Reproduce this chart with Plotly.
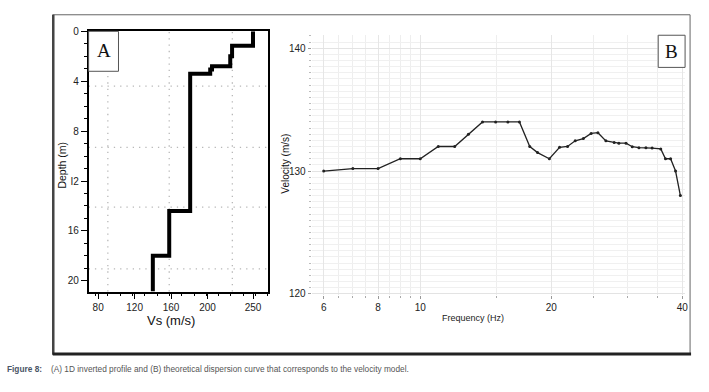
import numpy as np
import plotly.graph_objects as go

W, H = 709, 392

# ---------------- Panel A: 1D inverted Vs profile ----------------
layer_vs = [250, 227, 225, 205, 203, 181, 158, 140]            # m/s
layer_bottom_depth = [1.15, 2.0, 2.8, 3.05, 3.4, 14.4, 18.0, 20.86]  # m
vs_tick_vals = [80, 120, 160, 200, 250]
depth_tick_vals = [0, 4, 8, 12, 16, 20]
depth_tick_text = ["0", "4", "8", "I2", "16", "20"]
vs_grid = [90.6, 158, 227.3]
depth_grid = [4.4, 9.3, 14.1, 19.05]

# ---------------- Panel B: theoretical dispersion curve ----------------
freq = [6.0, 7.0, 8.0, 9.0, 10.0, 11.0, 12.0, 12.9, 13.9, 14.9, 15.9, 16.9,
        17.85, 18.6, 19.8, 20.9, 21.8, 22.7, 23.7, 24.7, 25.6, 26.7, 27.9,
        28.6, 29.7, 30.7, 31.8, 33.0, 34.1, 35.7, 36.6, 37.6, 38.6, 39.6]
vel = [130.0, 130.2, 130.2, 131.0, 131.0, 132.0, 132.0, 133.0, 134.0, 134.0,
       134.0, 134.0, 132.0, 131.5, 131.0, 131.93, 132.0, 132.46, 132.64,
       133.06, 133.12, 132.46, 132.33, 132.27, 132.27, 131.98, 131.9, 131.9,
       131.87, 131.8, 131.0, 131.0, 130.0, 128.0]
freq_tick_vals = [6, 8, 10, 20, 40]
freq_minor_vals = [6.5, 7, 7.5, 8.5, 9, 9.5, 15, 25, 30, 35]
vel_tick_vals = [120, 130, 140]

def px(x):
    return x / W

def py(y):
    return 1 - y / H

# step path built from the layer model
step_x = layer_vs + [layer_vs[-1]]
step_y = [0] + layer_bottom_depth

fig = go.Figure()
fig.add_trace(go.Scatter(x=step_x, y=step_y, mode="lines", line_shape="vh",
                         line=dict(color="black", width=4),
                         xaxis="x", yaxis="y", showlegend=False))
fig.add_trace(go.Scatter(x=freq, y=vel, mode="lines+markers",
                         line=dict(color="#222222", width=1.3),
                         marker=dict(color="#222222", size=3),
                         xaxis="x2", yaxis="y2", showlegend=False))

font_main = "Liberation Sans, Arial, sans-serif"

fig.update_layout(
    width=W, height=H,
    margin=dict(l=0, r=0, t=0, b=0),
    paper_bgcolor="white", plot_bgcolor="white",
    font=dict(family=font_main, color="#222222", size=10),
    xaxis=dict(domain=[px(89), px(269)], range=[69.5, 266.3], anchor="y",
               showline=True, linecolor="black", linewidth=1.5, mirror=True,
               ticks="outside", tickvals=vs_tick_vals, ticklen=6,
               tickcolor="black", tickwidth=1.2,
               minor=dict(tick0=77.2, dtick=13.5, ticks="outside", ticklen=3,
                          tickcolor="black", showgrid=False),
               showgrid=False, zeroline=False,
               tickfont=dict(size=10)),
    yaxis=dict(domain=[py(293), py(26)], range=[20.86, 0], anchor="x",
               showline=True, linecolor="black", linewidth=1.5, mirror=True,
               ticks="outside", tickvals=depth_tick_vals,
               ticktext=depth_tick_text, ticklen=6, tickcolor="black",
               tickwidth=1.2,
               minor=dict(dtick=1, ticks="outside", ticklen=3,
                          tickcolor="black", showgrid=False),
               showgrid=False, zeroline=False, tickfont=dict(size=10)),
    xaxis2=dict(type="log", domain=[px(313), px(688)],
                range=[np.log10(5.63), np.log10(40.6)], anchor="y2",
                showline=False, ticks="outside", tickvals=freq_tick_vals,
                ticklen=3, tickcolor="#999999",
                showgrid=True, gridcolor="#e6e6e6", gridwidth=1,
                minor=dict(tickvals=freq_minor_vals, ticks="outside",
                           ticklen=2, tickcolor="#aaaaaa", showgrid=True,
                           gridcolor="#eeeeee"),
                zeroline=False, tickfont=dict(size=10)),
    yaxis2=dict(domain=[py(297), py(30)], range=[119.87, 141.06],
                anchor="x2", showline=False, ticks="outside",
                tickvals=vel_tick_vals, ticklen=3, tickcolor="#999999",
                showgrid=True, gridcolor="#e3e3e3",
                minor=dict(dtick=0.5, ticks="outside", ticklen=2,
                           tickcolor="#bbbbbb", showgrid=True,
                           gridcolor="#f0f0f0"),
                zeroline=False, tickfont=dict(size=10)),
)

shapes = []
# dotted grid lines of panel A
grid_line = dict(color="#b8b8b8", width=1.3, dash="1.3px,5px")
for v in vs_grid:
    shapes.append(dict(type="line", xref="x", yref="y domain", x0=v, x1=v,
                       y0=0, y1=1, line=grid_line, layer="below"))
for d in depth_grid:
    shapes.append(dict(type="line", xref="x domain", yref="y", x0=0, x1=1,
                       y0=d, y1=d, line=grid_line, layer="below"))
# outer figure frame
shapes.append(dict(type="rect", xref="paper", yref="paper",
                   x0=px(53), x1=px(693), y0=py(357), y1=py(9),
                   line=dict(color="#666666", width=1)))
shapes.append(dict(type="line", xref="paper", yref="paper",
                   x0=px(53.5), x1=px(53.5), y0=py(358), y1=py(9),
                   line=dict(color="#444444", width=2.5)))
shapes.append(dict(type="line", xref="paper", yref="paper",
                   x0=px(53), x1=px(694), y0=py(357), y1=py(357),
                   line=dict(color="#222222", width=3)))
# label boxes
shapes.append(dict(type="rect", xref="paper", yref="paper",
                   x0=px(89), x1=px(119), y0=py(67), y1=py(26),
                   line=dict(color="#555555", width=1), fillcolor="white"))
shapes.append(dict(type="rect", xref="paper", yref="paper",
                   x0=px(661), x1=px(688), y0=py(63), y1=py(30),
                   line=dict(color="#555555", width=1), fillcolor="white"))
fig.update_layout(shapes=shapes)

serif = "Liberation Serif, Times New Roman, serif"
cap_font = font_main


def note(text, x, y, size, color="#111", angle=0, family=None,
         xanchor="center"):
    f = dict(size=size, color=color)
    if family:
        f["family"] = family
    return dict(text=text, x=px(x), y=py(y), xref="paper", yref="paper",
                xanchor=xanchor, yanchor="middle", showarrow=False,
                textangle=angle, font=f)


ann = [
    note("A", 104, 46, 19, family=serif),
    note("B", 674.5, 46.5, 19, family=serif),
    note("Vs (m/s)", 172, 323, 13),
    note("Depth (m)", 62, 163, 10.5, angle=-90),
    note("Velocity (m/s)", 287, 162, 10, angle=-90),
    note("Frequency (Hz)", 475, 320, 9, color="#222"),
    note("<b>Figure 8:</b>", 5, 373, 8.3, color="#4a5566", family=cap_font,
         xanchor="left"),
    note("(A) 1D inverted profile and (B) theoretical dispersion curve "
         "that corresponds to the velocity model.", 49, 373, 8.3,
         color="#555555", family=cap_font, xanchor="left"),
]
fig.update_layout(annotations=ann)

fig.write_html(
    "out.html",
    config={"displayModeBar": False},
    post_script="document.body.style.margin='0px';"
                "document.body.style.padding='0px';"
                "document.body.style.overflow='hidden';",
)
